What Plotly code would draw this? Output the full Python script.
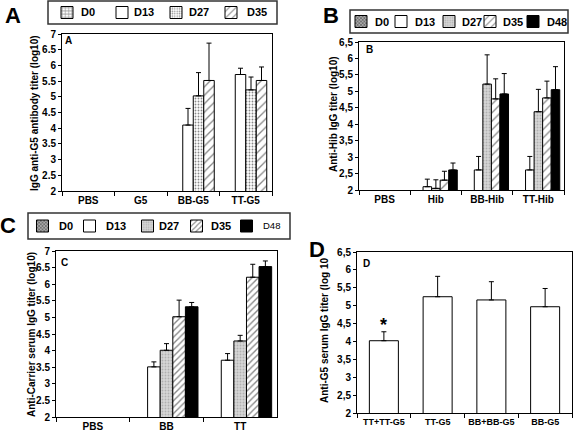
import plotly.graph_objects as go

W, H = 574, 434
FONT = "Liberation Sans, Arial, sans-serif"

# ---------------- data ----------------
a_categories = ["PBS", "G5", "BB-G5", "TT-G5"]
a_d0 = [None, None, None, None]
a_d13 = [None, None, 4.10, 5.71]
a_d13_err = [None, None, 0.53, 0.20]
a_d27 = [None, None, 5.03, 5.22]
a_d27_err = [None, None, 0.74, 0.41]
a_d35 = [None, None, 5.52, 5.52]
a_d35_err = [None, None, 1.19, 0.43]

b_categories = ["PBS", "Hib", "BB-Hib", "TT-Hib"]
b_d0 = [None, None, None, None]
b_d13 = [None, 2.10, 2.61, 2.61]
b_d13_err = [None, 0.23, 0.41, 0.41]
b_d27 = [None, 2.05, 5.22, 4.38]
b_d27_err = [None, 0.26, 0.89, 0.68]
b_d35 = [None, 2.30, 4.77, 4.80]
b_d35_err = [None, 0.27, 0.61, 0.51]
b_d48 = [None, 2.61, 4.92, 5.05]
b_d48_err = [None, 0.21, 0.62, 0.70]

c_categories = ["PBS", "BB", "TT"]
c_d0 = [None, None, None]
c_d13 = [None, 3.51, 3.71]
c_d13_err = [None, 0.15, 0.20]
c_d27 = [None, 4.01, 4.29]
c_d27_err = [None, 0.20, 0.17]
c_d35 = [None, 5.02, 6.21]
c_d35_err = [None, 0.50, 0.39]
c_d48 = [None, 5.32, 6.53]
c_d48_err = [None, 0.13, 0.17]

d_categories = ["TT+TT-G5", "TT-G5", "BB+BB-G5", "BB-G5"]
d_values = [4.02, 5.25, 5.16, 4.97]
d_err = [0.25, 0.57, 0.51, 0.51]
d_marks = ["*", "", "", ""]

ticks_7 = [2, 2.5, 3, 3.5, 4, 4.5, 5, 5.5, 6, 6.5, 7]
ticktext_dot = ["2", "2.5", "3", "3.5", "4", "4.5", "5", "5.5", "6", "6.5", "7"]
ticks_65 = [2, 2.5, 3, 3.5, 4, 4.5, 5, 5.5, 6, 6.5]
ticktext_comma = ["2", "2,5", "3", "3,5", "4", "4,5", "5", "5,5", "6", "6,5"]

a_title = "IgG anti-G5 antibody titer (log10)"
b_title = "Anti-Hib IgG titer (log10)"
c_title = "Anti-Carrier serum IgG titer (log10)"
d_title = "Anti-G5 serum IgG titer (log 10"


# ---------------- helpers ----------------
def px(x):
    return x / W


def py(y):
    return 1 - y / H


STYLE = {
    "A_D0": dict(color="white", pattern=dict(shape="+", fgcolor="#222", bgcolor="white", size=4, solidity=0.4)),
    "D0": dict(color="#555", pattern=dict(shape="x", fgcolor="#222", bgcolor="#aaa", size=3, solidity=0.5)),
    "D13": dict(color="white", pattern=dict(shape="")),
    "A_D27": dict(color="white", pattern=dict(shape=".", fgcolor="#111", bgcolor="white", size=3, solidity=0.3)),
    "D27": dict(color="#c8c8c8", pattern=dict(shape=".", fgcolor="#8a8a8a", bgcolor="#d6d6d6", size=3, solidity=0.3)),
    "D35": dict(color="white", pattern=dict(shape="/", fgcolor="#111", bgcolor="white", size=6, solidity=0.22)),
    "C_D35": dict(color="white", pattern=dict(shape="/", fgcolor="#111", bgcolor="white", size=4.5, solidity=0.3)),
    "D48": dict(color="black", pattern=dict(shape="")),
}

fig = go.Figure()
legend_layouts = {}
legend_texts = []
legend_count = [0]


def new_legend(cx, cy):
    legend_count[0] += 1
    n = legend_count[0]
    lid = "legend" if n == 1 else "legend%d" % n
    legend_layouts[lid] = dict(
        x=px(cx - 20), y=py(cy), xanchor="left", yanchor="middle",
        orientation="h", bgcolor="rgba(0,0,0,0)", borderwidth=0,
        font=dict(family=FONT, size=10, color="black"),
        itemclick=False, itemdoubleclick=False,
    )
    return lid


def add_panel(cats, series, xa, ya, slot, legend_pos):
    n = len(series)
    for i, (name, vals, errs, style) in enumerate(series):
        off = -n * slot / 2 + i * slot
        kw = {}
        if errs is not None:
            kw["error_y"] = dict(
                type="data", symmetric=False,
                array=[e if e is not None else 0 for e in errs],
                arrayminus=[0] * len(errs),
                color="black", thickness=1, width=2.5,
            )
        cx, cy, tx, fsize, fweight = legend_pos[i]
        lid = new_legend(cx, cy)
        legend_texts.append(dict(text=name, x=px(tx), y=py(cy), xref="paper", yref="paper",
                                 showarrow=False, xanchor="left", yanchor="middle",
                                 font=dict(family=FONT, size=fsize, color="black", weight=fweight)))
        fig.add_trace(go.Bar(
            x=cats, y=vals, name=" ", xaxis=xa, yaxis=ya,
            width=slot, offset=off,
            marker=dict(color=style["color"], line=dict(color="black", width=1),
                        pattern=style["pattern"]),
            showlegend=True, legend=lid,
            hoverinfo="skip", **kw,
        ))


# Panel A
add_panel(a_categories, [
    ("D0", a_d0, None, STYLE["A_D0"]),
    ("D13", a_d13, a_d13_err, STYLE["D13"]),
    ("D27", a_d27, a_d27_err, STYLE["A_D27"]),
    ("D35", a_d35, a_d35_err, STYLE["D35"]),
], "x", "y", 0.2, [(67, 12.5, 79, 11, "bold"), (122, 12.5, 132, 11, "bold"),
                   (176, 12.5, 187, 11, "bold"), (231, 12.5, 245, 11, "bold")])

# Panel B
add_panel(b_categories, [
    ("D0", b_d0, None, STYLE["D0"]),
    ("D13", b_d13, b_d13_err, STYLE["D13"]),
    ("D27", b_d27, b_d27_err, STYLE["D27"]),
    ("D35", b_d35, b_d35_err, STYLE["D35"]),
    ("D48", b_d48, b_d48_err, STYLE["D48"]),
], "x2", "y2", 0.167, [(361, 21.5, 373, 11, "bold"), (401, 21.5, 413, 11, "bold"),
                       (449, 21.5, 460, 11, "bold"), (490, 21.5, 501, 11, "bold"),
                       (533, 21.5, 545, 11, "bold")])

# Panel C
add_panel(c_categories, [
    ("D0", c_d0, None, STYLE["D0"]),
    ("D13", c_d13, c_d13_err, STYLE["D13"]),
    ("D27", c_d27, c_d27_err, STYLE["D27"]),
    ("D35", c_d35, c_d35_err, STYLE["C_D35"]),
    ("D48", c_d48, c_d48_err, STYLE["D48"]),
], "x3", "y3", 0.171, [(42.5, 226, 57, 11, "bold"), (89.5, 226, 104, 11, "bold"),
                       (147.5, 226, 157, 11, "bold"), (196.5, 226, 209, 11, "bold"),
                       (246.5, 226, 261, 9.5, "normal")])

# Panel D
fig.add_trace(go.Bar(
    x=d_categories, y=d_values, xaxis="x4", yaxis="y4", width=0.54,
    marker=dict(color="white", line=dict(color="black", width=1)),
    error_y=dict(type="data", symmetric=False, array=d_err, arrayminus=[0] * len(d_err),
                 color="black", thickness=1, width=2.5),
    showlegend=False, hoverinfo="skip",
))

# ---------------- axes ----------------
tickfont = dict(family=FONT, size=10, color="black", weight="bold")


def xaxis(dom, ncat, anchor, fsize=10):
    return dict(domain=[px(dom[0]), px(dom[1])], anchor=anchor, type="category",
                range=[-0.5, ncat - 0.5], showline=True, linecolor="black", linewidth=1,
                mirror=True, ticks="outside", tickson="boundaries", ticklen=4,
                tickcolor="black", showgrid=False, zeroline=False, tickangle=0,
                tickfont=dict(tickfont, size=fsize), fixedrange=True)


def yaxis(dom, rng, tv, tt, anchor):
    return dict(domain=[py(dom[1]), py(dom[0])], anchor=anchor, range=rng,
                tickvals=tv, ticktext=tt, showline=True, linecolor="black", linewidth=1,
                mirror=True, ticks="outside", ticklen=3, tickcolor="black",
                showgrid=False, zeroline=False, tickfont=tickfont, fixedrange=True)


layout = dict(
    width=W, height=H, margin=dict(l=0, r=0, t=0, b=0, autoexpand=False),
    paper_bgcolor="white", plot_bgcolor="white", barmode="overlay",
    font=dict(family=FONT, color="black"),
    xaxis=xaxis((62, 272), len(a_categories), "y"),
    yaxis=yaxis((34, 191), [2, 7], ticks_7, ticktext_dot, "x"),
    xaxis2=xaxis((359, 564), len(b_categories), "y2"),
    yaxis2=yaxis((42, 190), [2, 6.5], ticks_65, ticktext_comma, "x2"),
    xaxis3=xaxis((56, 277), len(c_categories), "y3"),
    yaxis3=yaxis((251, 417), [2, 7], ticks_7, ticktext_dot, "x3"),
    xaxis4=xaxis((357, 572), len(d_categories), "y4", fsize=9),
    yaxis4=yaxis((252, 413), [2, 6.5], ticks_65, ticktext_comma, "x4"),
)
layout.update(legend_layouts)
fig.update_layout(**layout)

# legend boxes
for (x0, y0, x1, y1) in [(48, 1, 277, 24), (350, 10, 568, 33), (28, 213, 290, 239)]:
    fig.add_shape(type="rect", xref="paper", yref="paper",
                  x0=px(x0), x1=px(x1), y0=py(y1), y1=py(y0),
                  line=dict(color="#333", width=1.5), fillcolor="rgba(0,0,0,0)", layer="below")

# annotations
ann = list(legend_texts)
for letter, x, y in [("A", 13, 15), ("B", 331, 15), ("C", 8, 225), ("D", 317, 250)]:
    ann.append(dict(text=letter, x=px(x), y=py(y), xref="paper", yref="paper",
                    showarrow=False, xanchor="center", yanchor="middle",
                    font=dict(family=FONT, size=22, color="black", weight="bold")))
for letter, x, y in [("A", 68, 41), ("B", 369, 49), ("C", 64, 262), ("D", 366, 263)]:
    ann.append(dict(text=letter, x=px(x), y=py(y), xref="paper", yref="paper",
                    showarrow=False, xanchor="center", yanchor="middle",
                    font=dict(family=FONT, size=10, color="black", weight="bold")))
for title, x, y in [(a_title, 35, 113), (b_title, 334, 114), (c_title, 31, 335), (d_title, 324, 331)]:
    ann.append(dict(text=title, x=px(x), y=py(y), xref="paper", yref="paper",
                    showarrow=False, xanchor="center", yanchor="middle", textangle=-90,
                    font=dict(family=FONT, size=10, color="black", weight="bold")))
for cat, v, e, m in zip(d_categories, d_values, d_err, d_marks):
    if m:
        ann.append(dict(text=m, x=cat, y=v + e, xref="x4", yref="y4", showarrow=False,
                        xanchor="center", yanchor="bottom", yshift=-5,
                        font=dict(family=FONT, size=18, color="black", weight="bold")))
fig.update_layout(annotations=ann)

fig.write_html(
    "out.html",
    config={"displayModeBar": False, "staticPlot": True},
    post_script="document.body.style.margin='0px';document.body.style.overflow='hidden';",
)
